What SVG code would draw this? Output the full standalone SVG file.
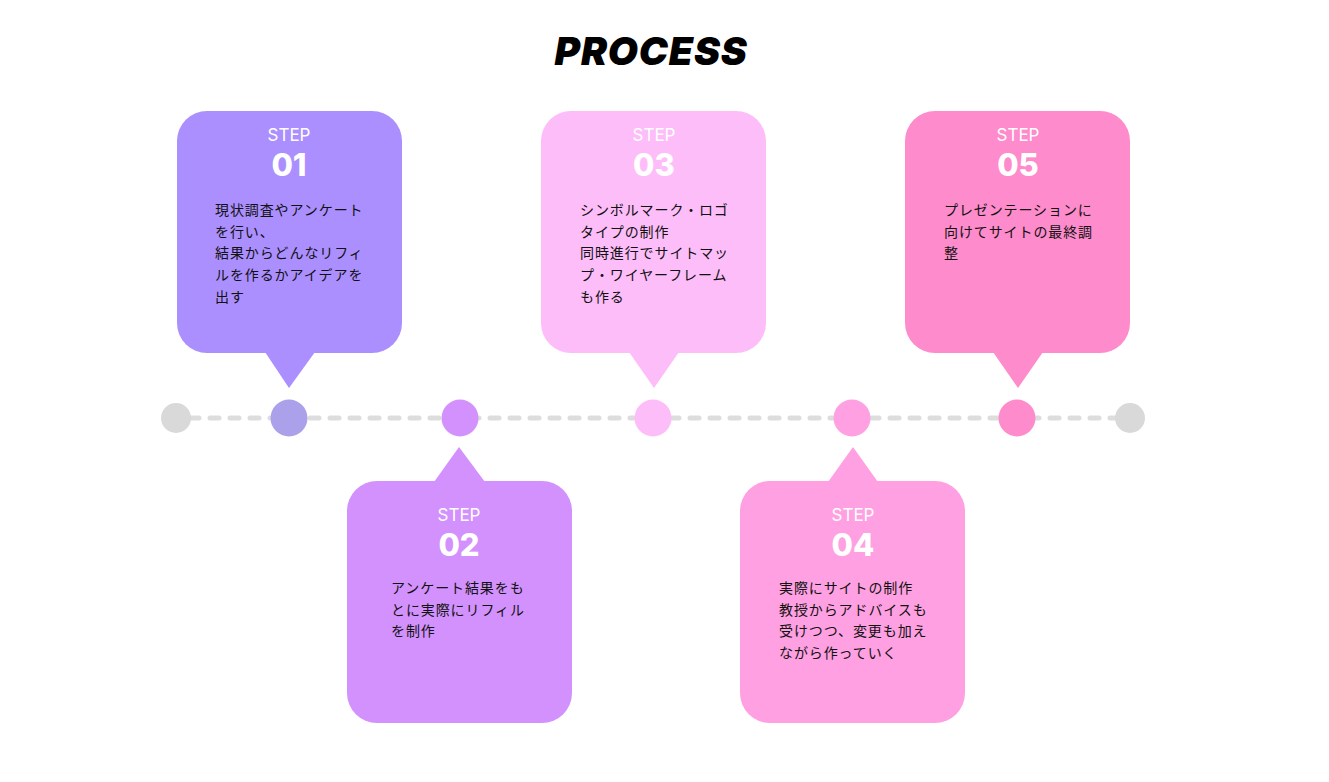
<svg xmlns="http://www.w3.org/2000/svg" width="1329" height="782" viewBox="0 0 1329 782">
<style>
.title{font-family:Inter,"Liberation Sans",sans-serif;font-weight:900;font-style:italic;font-size:39px;letter-spacing:0.8px;fill:#000;text-anchor:middle}
.step{font-family:Inter,"Liberation Sans",sans-serif;font-size:17px;fill:#fff;text-anchor:middle}
.num{font-family:Inter,"Liberation Sans",sans-serif;font-weight:800;font-size:31px;fill:#fff;text-anchor:middle}
.body{font-family:"Noto Sans CJK JP","Noto Sans",sans-serif;font-size:14px;letter-spacing:0.9px;fill:#111}
.dash{stroke:#DDDDDD;stroke-width:5;stroke-linecap:round;stroke-dasharray:9 11;fill:none}
</style>
<rect width="1329" height="782" fill="#fff"/>
<text class="title" x="651" y="65">PROCESS</text>
<g id="connectors">
<line class="dash" x1="190" y1="418" x2="1120" y2="418"/>
</g>
<g id="start"><circle cx="176" cy="418" r="15" fill="#D9D9D9"/></g>
<g id="end"><circle cx="1130" cy="418" r="15" fill="#D9D9D9"/></g>
<g id="dot1"><circle cx="289" cy="418" r="18.5" fill="#ABA0EA"/></g>
<g id="dot2"><circle cx="460" cy="418" r="18.5" fill="#D291FC"/></g>
<g id="dot3"><circle cx="653" cy="418" r="18.5" fill="#FDBDF9"/></g>
<g id="dot4"><circle cx="852" cy="418" r="18.5" fill="#FEA0E1"/></g>
<g id="dot5"><circle cx="1017" cy="418" r="18.5" fill="#FE8BCB"/></g>
<g id="step1">
<rect x="177" y="111" width="225" height="242" rx="30" fill="#AB8FFF"/>
<polygon points="265,352 315,352 289,388" fill="#AB8FFF"/>
<text class="step" x="289" y="141">STEP</text>
<text class="num" x="289" y="176">01</text>
<text class="body" x="215" y="215">現状調査やアンケート</text>
<text class="body" x="215" y="237">を行い、</text>
<text class="body" x="215" y="258">結果からどんなリフィ</text>
<text class="body" x="215" y="280">ルを作るかアイデアを</text>
<text class="body" x="215" y="302">出す</text>
</g>
<g id="step2">
<rect x="347" y="481" width="225" height="242" rx="30" fill="#D291FC"/>
<polygon points="434,482 485,482 459,447" fill="#D291FC"/>
<text class="step" x="459" y="521">STEP</text>
<text class="num" x="459" y="556">02</text>
<text class="body" x="391" y="593">アンケート結果をも</text>
<text class="body" x="391" y="615">とに実際にリフィル</text>
<text class="body" x="391" y="636">を制作</text>
</g>
<g id="step3">
<rect x="541" y="111" width="225" height="242" rx="30" fill="#FDBDF9"/>
<polygon points="629,352 679,352 654,388" fill="#FDBDF9"/>
<text class="step" x="654" y="141">STEP</text>
<text class="num" x="654" y="176">03</text>
<text class="body" x="580" y="215">シンボルマーク・ロゴ</text>
<text class="body" x="580" y="237">タイプの制作</text>
<text class="body" x="580" y="258">同時進行でサイトマッ</text>
<text class="body" x="580" y="280">プ・ワイヤーフレーム</text>
<text class="body" x="580" y="302">も作る</text>
</g>
<g id="step4">
<rect x="740" y="481" width="225" height="242" rx="30" fill="#FEA0E1"/>
<polygon points="828,482 878,482 853,447" fill="#FEA0E1"/>
<text class="step" x="853" y="521">STEP</text>
<text class="num" x="853" y="556">04</text>
<text class="body" x="779" y="593">実際にサイトの制作</text>
<text class="body" x="779" y="615">教授からアドバイスも</text>
<text class="body" x="779" y="636">受けつつ、変更も加え</text>
<text class="body" x="779" y="658">ながら作っていく</text>
</g>
<g id="step5">
<rect x="905" y="111" width="225" height="242" rx="30" fill="#FE8BCB"/>
<polygon points="993,352 1043,352 1018,388" fill="#FE8BCB"/>
<text class="step" x="1018" y="141">STEP</text>
<text class="num" x="1018" y="176">05</text>
<text class="body" x="944" y="215">プレゼンテーションに</text>
<text class="body" x="944" y="237">向けてサイトの最終調</text>
<text class="body" x="944" y="258">整</text>
</g>
</svg>
